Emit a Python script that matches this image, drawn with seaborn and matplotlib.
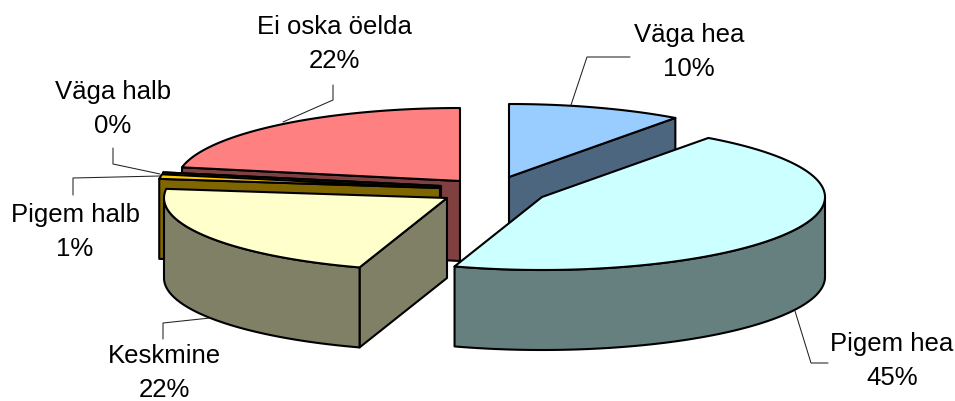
import numpy as np
import matplotlib
matplotlib.use("Agg")
import matplotlib.pyplot as plt
from matplotlib.patches import Polygon
import seaborn as sns

categories = ["Väga hea", "Pigem hea", "Keskmine", "Pigem halb", "Väga halb", "Ei oska öelda"]
values = [10, 45, 22, 1, 0, 22]
top_colors = ["#99CCFF", "#CCFFFF", "#FFFFCC", "#FFCC00", "#FFCC00", "#FF8080"]

# exploded slice apex positions (pixels of the canvas)
apex_x = [509, 542, 447, 440, 441, 460]
apex_y = [177, 197, 198, 188, 186, 181]
draw_order = [0, 5, 4, 3, 2, 1]
label_x = [689, 892, 164, 75, 113, 334]
label_y = [52, 361, 373, 232, 109, 44]
leaders = [
    [(571, 105), (587, 57), (630, 57)],
    [(795, 311), (811, 363), (828, 363)],
    [(210, 318), (163, 323), (163, 339)],
    [(160, 176), (73, 178), (73, 195)],
    [(160, 174), (113, 164), (113, 148)],
    [(283, 122), (333, 100), (333, 85)],
]

RX, RY, DEPTH = 283, 73, 80
EDGE = 1.5

sns.set_theme(style="white")
plt.rcParams["font.family"] = ["Liberation Sans", "DejaVu Sans"]

fig = plt.figure(figsize=(9.55, 4.01), dpi=100)
ax = fig.add_axes([0, 0, 1, 1])
ax.set_xlim(0, 955)
ax.set_ylim(401, 0)
ax.axis("off")

palette = sns.color_palette(top_colors)
total = sum(values)
edges = 2 * np.pi * np.concatenate([[0], np.cumsum(values)]) / total


def rim(cx, cy, t):
    return cx + RX * np.sin(t), cy - RY * np.cos(t)


def face(xs, ys, color, z):
    ax.add_patch(Polygon(np.column_stack([xs, ys]), closed=True, facecolor=color,
                         edgecolor="black", linewidth=EDGE, joinstyle="round", zorder=z))


for z, i in enumerate(draw_order):
    cx, cy = apex_x[i], apex_y[i]
    t0, t1 = edges[i], edges[i + 1]
    top = palette[i]
    side = tuple(c * 0.5 for c in top)
    base = z * 10

    # cut faces that look towards the viewer
    for t, sign in ((t0, -1), (t1, 1)):
        if sign * np.sin(t) > 1e-6:
            x, y = rim(cx, cy, t)
            face([cx, x, x, cx], [cy, y, y + DEPTH, cy + DEPTH], side, base + 1)

    # outer wall: only the front half of the rim is seen
    lo, hi = max(t0, np.pi / 2), min(t1, 3 * np.pi / 2)
    if hi > lo:
        tt = np.linspace(lo, hi, 120)
        x, y = rim(cx, cy, tt)
        face(np.r_[x, x[::-1]], np.r_[y, y[::-1] + DEPTH], side, base + 2)

    # top face
    tt = np.linspace(t0, t1, max(int(np.degrees(t1 - t0)), 2))
    x, y = rim(cx, cy, tt)
    face(np.r_[cx, x], np.r_[cy, y], top, base + 3)

for i, name in enumerate(categories):
    pts = np.array(leaders[i])
    ax.plot(pts[:, 0], pts[:, 1], color="#222222", lw=0.75, zorder=200)
    ax.text(label_x[i], label_y[i], f"{name}\n{round(100 * values[i] / total)}%",
            ha="center", va="center", multialignment="center", fontsize=18.5,
            color="black", linespacing=1.53, zorder=210, clip_on=False)

fig.savefig("out.png", dpi=100, facecolor="white")
